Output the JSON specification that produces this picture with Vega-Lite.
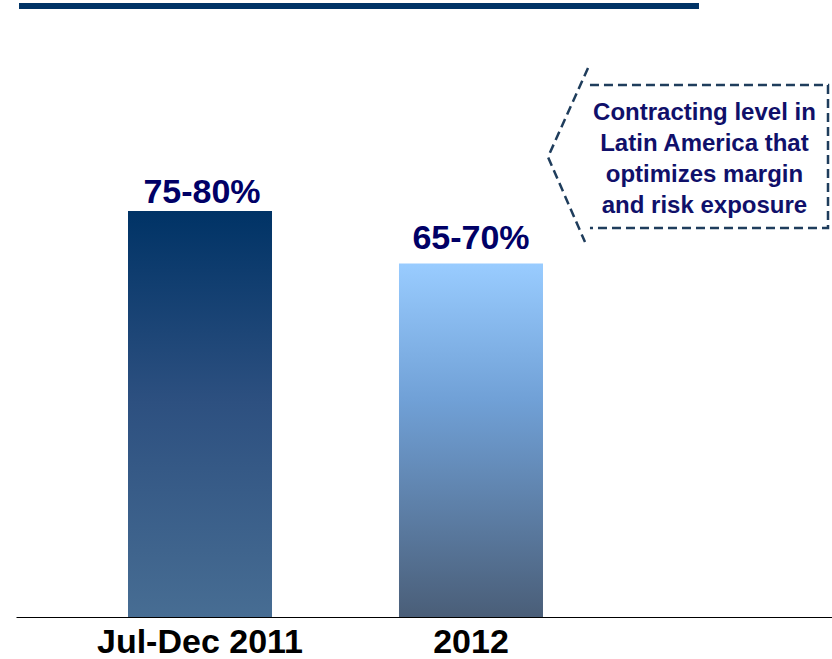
{
  "$schema": "https://vega.github.io/schema/vega-lite/v6.json",
  "width": 816,
  "height": 617,
  "autosize": {"type": "none"},
  "padding": {"left": 16, "top": 0, "right": 0, "bottom": 42},
  "background": "white",
  "config": {"view": {"stroke": null}, "font": "Liberation Sans"},
  "datasets": {
    "bars": [
      {"period": "Jul-Dec 2011", "mid": 77.5, "label": "75-80%"},
      {"period": "2012", "mid": 67.5, "label": "65-70%"}
    ],
    "callout": [
      {"part": "chevron", "idx": 1, "ax": 70.10, "ay": 104.80},
      {"part": "chevron", "idx": 2, "ax": 65.20, "ay": 87.81},
      {"part": "chevron", "idx": 3, "ax": 69.73, "ay": 71.58},
      {"part": "box", "idx": 1, "ax": 70.34, "ay": 101.55},
      {"part": "box", "idx": 2, "ax": 99.51, "ay": 101.55},
      {"part": "box", "idx": 3, "ax": 99.51, "ay": 74.26},
      {"part": "box", "idx": 4, "ax": 70.34, "ay": 74.26}
    ],
    "note": [
      {"note": "Contracting level in\nLatin America that\noptimizes margin\nand risk exposure"}
    ]
  },
  "layer": [
    {
      "data": {"name": "bars"},
      "encoding": {
        "x": {
          "field": "period",
          "type": "nominal",
          "sort": null,
          "scale": {"domain": ["Jul-Dec 2011", "2012"], "paddingInner": 0.4686, "paddingOuter": 0.7399, "align": 0.2793},
          "axis": {
            "title": null,
            "labelAngle": 0,
            "labelFont": "Liberation Sans",
            "labelFontSize": 34,
            "labelFontWeight": "bold",
            "labelColor": "#000000",
            "labelLimit": 0,
            "domainColor": "#000000",
            "domainWidth": 1.2,
            "ticks": false,
            "tickSize": 0,
            "labelPadding": 8,
            "grid": false
          }
        },
        "y": {
          "field": "mid",
          "type": "quantitative",
          "scale": {"domain": [0, 117.78], "nice": false, "zero": true},
          "axis": null
        }
      },
      "layer": [
        {
          "transform": [{"filter": "datum.period === 'Jul-Dec 2011'"}],
          "mark": {
            "type": "bar",
            "color": {
              "gradient": "linear", "x1": 0, "y1": 0, "x2": 0, "y2": 1,
              "stops": [
                {"offset": 0, "color": "#003366"},
                {"offset": 0.47, "color": "#2d5080"},
                {"offset": 1, "color": "#476d93"}
              ]
            }
          }
        },
        {
          "transform": [{"filter": "datum.period === '2012'"}],
          "mark": {
            "type": "bar",
            "color": {
              "gradient": "linear", "x1": 0, "y1": 0, "x2": 0, "y2": 1,
              "stops": [
                {"offset": 0, "color": "#99ccff"},
                {"offset": 0.39, "color": "#70a0d6"},
                {"offset": 1, "color": "#4a5e78"}
              ]
            }
          }
        },
        {
          "transform": [{"filter": "datum.period === 'Jul-Dec 2011'"}],
          "mark": {"type": "text", "fontSize": 34, "fontWeight": "bold", "color": "#000066", "baseline": "alphabetic", "dy": -8, "dx": 2},
          "encoding": {"text": {"field": "label"}}
        },
        {
          "transform": [{"filter": "datum.period === '2012'"}],
          "mark": {"type": "text", "fontSize": 34, "fontWeight": "bold", "color": "#000066", "baseline": "alphabetic", "dy": -14},
          "encoding": {"text": {"field": "label"}}
        }
      ]
    },
    {
      "layer": [
        {
          "data": {"values": [{}]},
          "mark": {"type": "rule", "color": "#003366", "strokeWidth": 6},
          "encoding": {
            "x": {"datum": 0.37, "type": "quantitative", "scale": {"domain": [0, 100], "nice": false, "zero": false}, "axis": null},
            "x2": {"datum": 83.7},
            "y": {"datum": 116.63, "type": "quantitative", "scale": {"domain": [0, 117.78], "nice": false, "zero": true}, "axis": null}
          }
        },
        {
          "data": {"name": "callout"},
          "mark": {"type": "line", "color": "#1f3d5c", "strokeWidth": 2.5, "strokeDash": [9, 5], "clip": false},
          "encoding": {
            "x": {"field": "ax", "type": "quantitative", "scale": {"domain": [0, 100], "nice": false, "zero": false}, "axis": null},
            "y": {"field": "ay", "type": "quantitative", "scale": {"domain": [0, 117.78], "nice": false, "zero": true}, "axis": null},
            "detail": {"field": "part"},
            "order": {"field": "idx"}
          }
        },
        {
          "data": {"name": "note"},
          "mark": {"type": "text", "lineBreak": "\n", "lineHeight": 31, "fontSize": 24, "fontWeight": "bold", "color": "#10106a", "align": "center", "baseline": "alphabetic"},
          "encoding": {
            "x": {"datum": 84.37, "type": "quantitative", "scale": {"domain": [0, 100], "nice": false, "zero": false}, "axis": null},
            "y": {"datum": 94.87, "type": "quantitative", "scale": {"domain": [0, 117.78], "nice": false, "zero": true}, "axis": null},
            "text": {"field": "note"}
          }
        }
      ]
    }
  ],
  "resolve": {"scale": {"x": "independent"}}
}
